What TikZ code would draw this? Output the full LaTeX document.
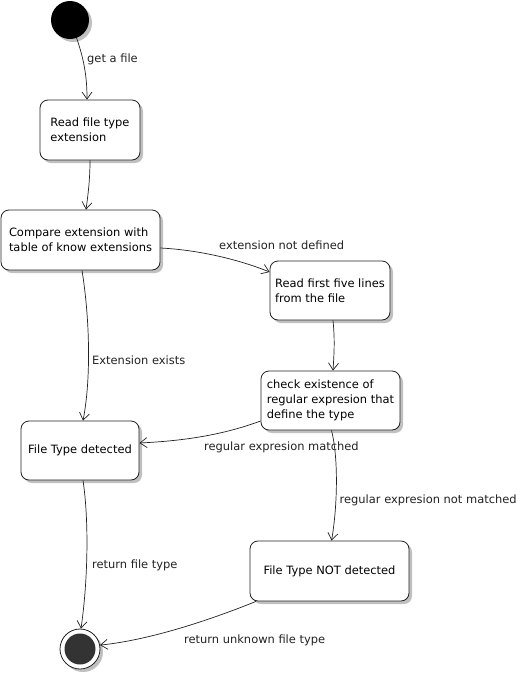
\documentclass[tikz,border=0pt]{standalone}
\usepackage{fontspec}
\setmainfont{DejaVu Sans}
\usetikzlibrary{arrows.meta,shadows,calc}
\definecolor{shd}{RGB}{192,192,192}
\definecolor{ink}{RGB}{34,34,34}
\definecolor{endfill}{RGB}{51,51,51}
\begin{document}
\begin{tikzpicture}[x=1pt,y=-1pt,
  font=\fontsize{11.45}{14.7}\selectfont,
  shd3/.style={drop shadow={shadow xshift=3pt, shadow yshift=-3pt, fill=shd, opacity=1}},
  state/.style={draw=ink, line width=0.8pt, rounded corners=8pt, fill=white, align=left, inner sep=0pt, shd3},
  edge/.style={draw=ink, line width=0.7pt, -{Straight Barb[length=7pt,width=10pt]}},
  lbl/.style={anchor=west, inner sep=0pt, text=ink}]
\fill[white] (0,0) rectangle (524,675);
\useasboundingbox (0,0) rectangle (524,675);

\node[circle, fill=black, minimum size=38pt, inner sep=0pt, shd3] (start) at (70,20) {};
\node[state, minimum width=100pt, minimum height=60pt] (box1) at (90,130) {Read file type\\extension};
\node[state, minimum width=159pt, minimum height=60pt] (box2) at (80.5,240) {Compare extension with\\table of know extensions};
\node[state, minimum width=120pt, minimum height=59pt] (box3) at (330,290.5) {Read first five lines\\from the file};
\node[state, minimum width=139pt, minimum height=59pt] (box4) at (330.5,400.5) {check existence of\\regular expresion that\\define the type};
\node[state, minimum width=118pt, minimum height=59pt] (box5) at (80,450.5) {File Type detected};
\node[state, minimum width=159pt, minimum height=60pt] (box6) at (329.5,571) {File Type NOT detected};
\node[circle, draw=ink, fill=white, line width=0.8pt, minimum size=40pt, inner sep=0pt, shd3,
  path picture={\fill[endfill] (path picture bounding box.center) circle (15.5pt);}] (end) at (80,649) {};

\draw[edge] (start.-70) .. controls (85,62) and (87,80) .. ($(box1.north)+(-3,0)$);
\draw[edge] (box1.south) .. controls (90,180) and (88,195) .. ($(box2.north)+(5.5,0)$);
\draw[edge] ($(box2.east)+(0,8)$) .. controls (200,250) and (240,260) .. ($(box3.west)+(0,-18.5)$);
\draw[edge] ($(box2.south)+(1.5,0)$) .. controls (90,320) and (91,380) .. ($(box5.north)+(3,0)$);
\draw[edge] ($(box3.south)+(3,0)$) .. controls (335,340) and (334,355) .. ($(box4.north)+(2.5,0)$);
\draw[edge] ($(box4.west)+(0,20.5)$) .. controls (220,436) and (180,441) .. ($(box5.east)+(0,-7.5)$);
\draw[edge] ($(box4.south)+(1,0)$) .. controls (339,460) and (337,510) .. ($(box6.north)+(2,0)$);
\draw[edge] ($(box5.south)+(3,0)$) .. controls (89,520) and (88,580) .. ($(end.north)+(1,0)$);
\draw[edge] ($(box6.south)+(-73.5,0)$) .. controls (210,620) and (150,640) .. (end.11);

\node[lbl] (l1) at (87,59) {get a file};
\node[lbl] (l2) at (219,245.5) {extension not defined};
\node[lbl] (l3) at (92,360) {Extension exists};
\node[lbl] (l4) at (204,447.5) {regular expresion matched};
\node[lbl] (l5) at (339.5,500) {regular expresion not matched};
\node[lbl] (l6) at (92,565.5) {return file type};
\node[lbl] (l7) at (184,640) {return unknown file type};
\end{tikzpicture}
\end{document}
